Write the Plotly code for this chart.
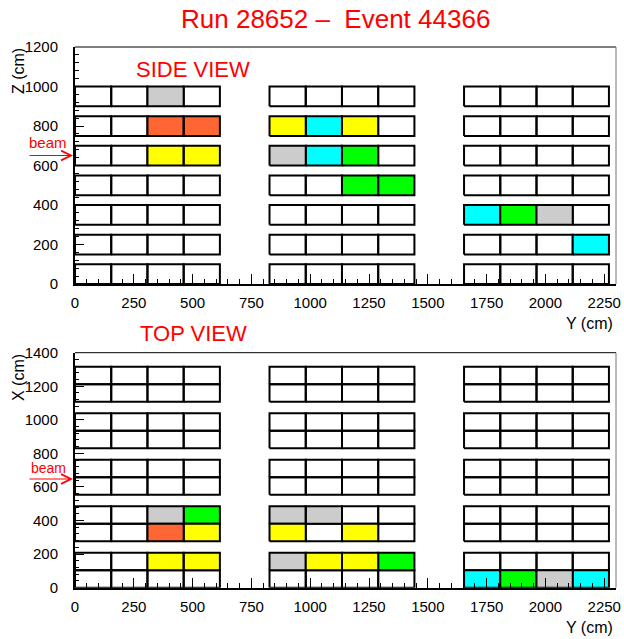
import plotly.graph_objects as go

# ---------------- data ----------------
run_number = 28652
event_number = 44366

# detector geometry (cm)
y_group_start = [0, 827, 1654]      # three modules along Y
col_width = 154                       # 4 counters per module
side_row_bottom = [0, 150, 300, 450, 600, 750, 900]   # Z planes
side_row_height = 100
top_layer_start = [0, 277, 554, 831, 1108]            # X double layers
top_row_height = 104

x_ticks = [0, 250, 500, 750, 1000, 1250, 1500, 1750, 2000, 2250]
z_ticks = [0, 200, 400, 600, 800, 1000, 1200]
xv_ticks = [0, 200, 400, 600, 800, 1000, 1200, 1400]

# hit cells: (row index from bottom, column index from left, colour)
side_hit_row = [6, 5, 5, 5, 5, 5, 4, 4, 4, 4, 4, 3, 3, 2, 2, 2, 1]
side_hit_col = [2, 2, 3, 4, 5, 6, 2, 3, 4, 5, 6, 6, 7, 8, 9, 10, 11]
side_hit_col_name = ["grey", "orange", "orange", "yellow", "cyan", "yellow",
                     "yellow", "yellow", "grey", "cyan", "green",
                     "green", "green", "cyan", "green", "grey", "cyan"]

top_hit_row = [0, 0, 0, 0, 1, 1, 1, 1, 1, 1, 2, 2, 2, 2, 3, 3, 3, 3]
top_hit_col = [8, 9, 10, 11, 2, 3, 4, 5, 6, 7, 2, 3, 4, 6, 2, 3, 4, 5]
top_hit_col_name = ["cyan", "green", "grey", "cyan",
                    "yellow", "yellow", "grey", "yellow", "yellow", "green",
                    "orange", "yellow", "yellow", "yellow",
                    "grey", "green", "grey", "grey"]

palette = {"white": "#ffffff", "grey": "#cccccc", "orange": "#ff6633",
           "yellow": "#ffff00", "cyan": "#00ffff", "green": "#00ff00"}

# ---------------- build ----------------
col_left = [g + i * col_width for g in y_group_start for i in range(4)]
top_row_bottom = [s + k * top_row_height for s in top_layer_start for k in range(2)]


def cells(row_bottoms, row_h, hit_rows, hit_cols, hit_names):
    hits = {(r, c): n for r, c, n in zip(hit_rows, hit_cols, hit_names)}
    groups = {}
    for r, yb in enumerate(row_bottoms):
        for c, xl in enumerate(col_left):
            name = hits.get((r, c), "white")
            xs, ys = groups.setdefault(name, ([], []))
            xs += [xl, xl + col_width, xl + col_width, xl, xl, None]
            ys += [yb, yb, yb + row_h, yb + row_h, yb, None]
    return groups


fig = go.Figure()

for (rows, rh, hr, hc, hn, xa, ya) in [
        (side_row_bottom, side_row_height, side_hit_row, side_hit_col, side_hit_col_name, "x", "y"),
        (top_row_bottom, top_row_height, top_hit_row, top_hit_col, top_hit_col_name, "x2", "y2")]:
    for name, (xs, ys) in cells(rows, rh, hr, hc, hn).items():
        fig.add_trace(go.Scatter(x=xs, y=ys, xaxis=xa, yaxis=ya, mode="lines",
                                 fill="toself", fillcolor=palette[name],
                                 line=dict(color="black", width=2),
                                 hoverinfo="skip", showlegend=False))

W, H = 624, 639
x_dom = [75 / W, 616 / W]
side_dom = [1 - 284 / H, 1 - 47 / H]
top_dom = [1 - 587.7 / H, 1 - 352.7 / H]
font = "Liberation Sans, Arial, sans-serif"

xcommon = dict(range=[0, 2300], tickvals=x_ticks, ticks="inside", ticklen=10,
               tickwidth=1, tickcolor="black", showline=True, linewidth=2,
               linecolor="black", showgrid=False, zeroline=False,
               tickfont=dict(family=font, size=15, color="black"),
               minor=dict(dtick=50, tick0=0, ticks="inside", ticklen=5,
                          tickcolor="black", tickwidth=1, showgrid=False),
               ticklabelstandoff=4, domain=x_dom, automargin=False)
ycommon = dict(ticks="inside", ticklen=9, tickwidth=1, tickcolor="black",
               showline=True, linewidth=2, linecolor="black", showgrid=False,
               zeroline=False, tickfont=dict(family=font, size=15, color="black"),
               minor=dict(dtick=40, tick0=0, ticks="inside", ticklen=4,
                          tickcolor="black", tickwidth=1, showgrid=False),
               ticklabelstandoff=12, automargin=False)

fig.update_layout(
    width=W, height=H, margin=dict(l=0, r=0, t=0, b=0),
    paper_bgcolor="white", plot_bgcolor="white", showlegend=False,
    xaxis=dict(**xcommon, anchor="y"),
    yaxis=dict(**ycommon, range=[0, 1200], tickvals=z_ticks, domain=side_dom, anchor="x"),
    xaxis2=dict(**xcommon, anchor="y2"),
    yaxis2=dict(**ycommon, range=[0, 1400], tickvals=xv_ticks, domain=top_dom, anchor="x2"),
)

# frame top/right lines
for xa, ya in [("x", "y"), ("x2", "y2")]:
    fig.add_shape(type="line", xref=f"{xa} domain", yref=f"{ya} domain",
                  x0=0, x1=1, y0=1, y1=1, line=dict(color="black", width=1))
    fig.add_shape(type="line", xref=f"{xa} domain", yref=f"{ya} domain",
                  x0=1, x1=1, y0=0, y1=1, line=dict(color="#777777", width=1))

red = "#ff0000"


def px(x, y):
    return x / W, 1 - y / H


def text(s, x, y, size, color="black", angle=0, xanchor="center"):
    xx, yy = px(x, y)
    fig.add_annotation(text=s, x=xx, y=yy, xref="paper", yref="paper",
                       showarrow=False, xanchor=xanchor, yanchor="middle",
                       textangle=angle, font=dict(family=font, size=size, color=color))


text(f"Run {run_number} \u2013  Event {event_number}", 335, 19, 26, red)
text("SIDE VIEW", 193, 69, 22, red)
text("TOP VIEW", 193, 333, 22, red)
text("Z (cm)", 18, 71, 16, angle=-90)
text("X (cm)", 18, 378, 16, angle=-90)
text("Y (cm)", 615, 323, 16, xanchor="right")
text("Y (cm)", 615, 627, 16, xanchor="right")
text("beam", 48, 142, 15, red)
text("beam", 48, 468, 14, red)

for yb in [155.5, 479]:
    xx, yy = px(73, yb)
    fig.add_annotation(x=xx, y=yy, xref="paper", yref="paper", text="",
                       showarrow=True, ax=-45, ay=0, arrowhead=5, arrowsize=1.6,
                       arrowwidth=1.2, arrowcolor=red)

fig.write_html("out.html", config={"displayModeBar": False},
               post_script="document.body.style.margin='0px';")
